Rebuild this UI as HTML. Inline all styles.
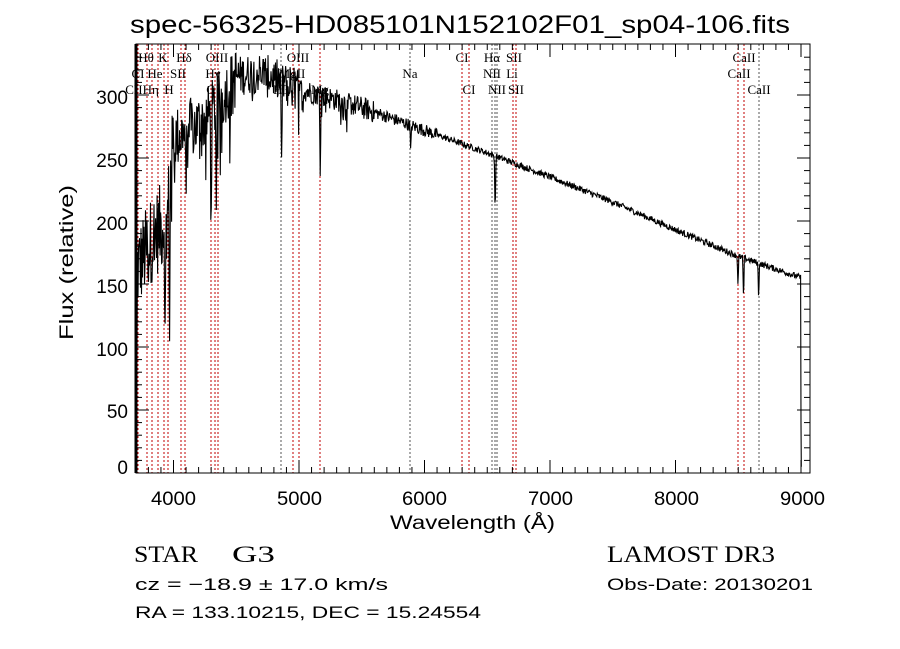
<!DOCTYPE html>
<html><head><meta charset="utf-8"><style>
html,body{margin:0;padding:0;background:#fff;width:900px;height:649px;overflow:hidden}
svg{display:block}
.t{font-family:"Liberation Sans",sans-serif;fill:#000}
.s{font-family:"Liberation Serif",serif;fill:#000}
</style></head><body>
<svg id="c" width="900" height="649" xmlns="http://www.w3.org/2000/svg">
<text class="t" x="130" y="33" font-size="25" textLength="660" lengthAdjust="spacingAndGlyphs">spec-56325-HD085101N152102F01_sp04-106.fits</text>
<g id="lines"></g>
<polyline id="spec" fill="none" stroke="#000" stroke-width="1.1" points=""/>
<rect x="136" y="44" width="674" height="429" fill="none" stroke="#000" stroke-width="1"/>
<line x1="136" y1="44" x2="136" y2="473" stroke="#000" stroke-width="3"/>
<g id="ticks" stroke="#000" stroke-width="1"></g>
<g id="lab" class="s" font-size="13"></g>
<g class="t" font-size="19">
<text x="151" y="505" textLength="45" lengthAdjust="spacingAndGlyphs">4000</text>
<text x="277" y="505" textLength="45" lengthAdjust="spacingAndGlyphs">5000</text>
<text x="402" y="505" textLength="45" lengthAdjust="spacingAndGlyphs">6000</text>
<text x="528" y="505" textLength="45" lengthAdjust="spacingAndGlyphs">7000</text>
<text x="654" y="505" textLength="45" lengthAdjust="spacingAndGlyphs">8000</text>
<text x="780" y="505" textLength="45" lengthAdjust="spacingAndGlyphs">9000</text>
<text x="128" y="474" text-anchor="end">0</text>
<text x="128" y="418" text-anchor="end">50</text>
<text x="128" y="356" text-anchor="end">100</text>
<text x="128" y="293" text-anchor="end">150</text>
<text x="128" y="230" text-anchor="end">200</text>
<text x="128" y="167" text-anchor="end">250</text>
<text x="128" y="104" text-anchor="end">300</text>
<text x="390" y="529" textLength="165" lengthAdjust="spacingAndGlyphs">Wavelength (Å)</text>
<text transform="translate(73,340) rotate(-90)" textLength="155" lengthAdjust="spacingAndGlyphs">Flux (relative)</text>
</g>
<text class="s" x="134" y="562" font-size="23" textLength="64" lengthAdjust="spacingAndGlyphs">STAR</text>
<text class="s" x="232" y="562" font-size="23" textLength="43" lengthAdjust="spacingAndGlyphs">G3</text>
<text class="s" x="607" y="562" font-size="23" textLength="168" lengthAdjust="spacingAndGlyphs">LAMOST DR3</text>
<text class="t" x="135" y="590" font-size="17" textLength="253" lengthAdjust="spacingAndGlyphs">cz = −18.9 ± 17.0 km/s</text>
<text class="t" x="607" y="590" font-size="17" textLength="206" lengthAdjust="spacingAndGlyphs">Obs-Date: 20130201</text>
<text class="t" x="135" y="618" font-size="17" textLength="346" lengthAdjust="spacingAndGlyphs">RA = 133.10215, DEC =  15.24554</text>
</svg>
<script>
var NS="http://www.w3.org/2000/svg";
function X(w){return 173.5+(w-4000)*0.1255;}
function Y(f){return 473-f*1.26;}
function el(p,n,a){var e=document.createElementNS(NS,n);for(var k in a)e.setAttribute(k,a[k]);p.appendChild(e);return e;}
var tk=document.getElementById('ticks');
for(var w=3800;w<=9000;w+=100){var big=w%1000==0;var x=X(w);
 el(tk,'line',{x1:x,y1:473,x2:x,y2:473-(big?13:6)});el(tk,'line',{x1:x,y1:44,x2:x,y2:44+(big?13:6)});}
for(var f=10;f<=330;f+=10){var big=f%50==0;var y=Y(f);
 el(tk,'line',{x1:136,y1:y,x2:136+(big?13:6),y2:y});el(tk,'line',{x1:810,y1:y,x2:810-(big?13:6),y2:y});}
var L=document.getElementById('lines');
var red=[138,147,152,158,164,168,181,185,211,215,218,293,299,320,462,469,513,516,738,744];
var gr=[281,410,492,495,497,759];
red.forEach(function(x){el(L,'line',{x1:x,y1:44,x2:x,y2:473,stroke:'#c00000','stroke-dasharray':'2,2'});});
gr.forEach(function(x){el(L,'line',{x1:x,y1:44,x2:x,y2:473,stroke:'#555','stroke-dasharray':'2,2'});});
var lab=document.getElementById('lab');
[[146,62,'Hθ'],[163,62,'K'],[184,62,'Hδ'],[217,62,'OIII'],[298,62,'OIII'],[410,78,'Na'],[462,62,'CI'],[492,62,'Hα'],[514,62,'SII'],[744,62,'CaII'],
[138,78,'CI'],[155,78,'He'],[178,78,'SII'],[213,78,'Hγ'],[292,78,'MgII'],[492,78,'NII'],[512,78,'Li'],[739,78,'CaII'],
[142,94,'CIIHη'],[169,94,'H'],[211,94,'G'],[281,94,'Hβ'],[320,94,'Mg'],[469,94,'CI'],[497,94,'NII'],[516,94,'SII'],[759,94,'CaII']
].forEach(function(a){var t=el(lab,'text',{x:a[0],y:a[1],'text-anchor':'middle'});t.textContent=a[2];});
var s=12345;function r(){s=(s*1103515245+12345)%2147483648;return s/2147483648;}
var cont=[[3700,160],[3850,190],[3950,200],[4000,265],[4250,280],[4400,300],[4500,315],[4700,318],[5000,305],[5500,290],[6000,272],[6500,254],[7000,235],[7500,215],[8000,193],[8500,172],[9000,155]];
function C(w){for(var i=0;i<cont.length-1;i++){if(w<=cont[i+1][0]){var a=cont[i],b=cont[i+1];return a[1]+(b[1]-a[1])*(w-a[0])/(b[0]-a[0]);}}return 155;}
var dips=[[3934,110],[3969,100],[4101,40],[4300,110],[4340,60],[4861,75],[5170,65],[5890,25],[6563,50],[8498,25],[8542,35],[8662,30]];
var pts=[];
for(var w=3705;w<=9000;w+=4){var c=C(w);var amp=w<4000?35:w<4500?25:w<5000?16:w<5600?9:w<6100?5:2.5;
 var f=c+(r()-0.5)*amp*2;if(w<5400&&r()<0.12)f-=r()*amp*1.8;
 dips.forEach(function(d){var dd=Math.abs(w-d[0]);if(dd<7)f-=d[1]*(1-dd/7);});
 if(w<3712)f=f*(w-3705)/7;
 pts.push(X(w).toFixed(1)+','+Y(Math.max(0,Math.min(340,f))).toFixed(1));}
pts.push(X(9000).toFixed(1)+','+Y(40));pts.push(X(9002).toFixed(1)+','+Y(5));
document.getElementById('spec').setAttribute('points',pts.join(' '));
</script>
</body></html>
